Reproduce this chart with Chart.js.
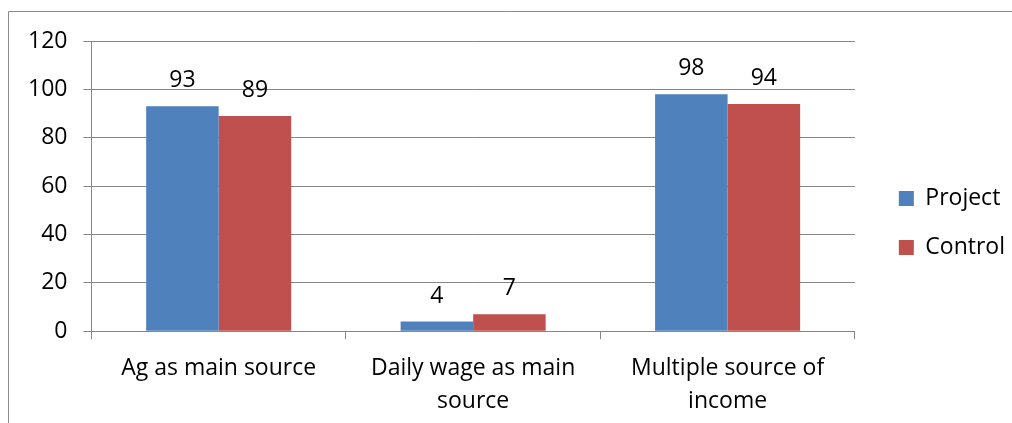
<!DOCTYPE html>
<html>
<head>
<meta charset="utf-8">
<script src="https://cdn.jsdelivr.net/npm/chart.js@4"></script>
<style>
  html, body { margin: 0; padding: 0; background: #fff; }
  #wrap { position: relative; width: 1012px; height: 423px; overflow: hidden; }
</style>
</head>
<body>
<div id="wrap"><canvas id="chart" width="1012" height="431"></canvas></div>
<script>
// chart data
var categories = ['Ag as main source', ['Daily wage as main', 'source'], ['Multiple source of', 'income']];
var projectValues = [93, 4, 98];
var controlValues = [89, 7, 94];
var yTicks = [0, 20, 40, 60, 80, 100, 120];

var FONT = '"Open Sans", sans-serif';

// outer frame (only left & top edges visible in the picture)
var framePlugin = {
  id: 'frame',
  beforeDraw: function(chart) {
    var ctx = chart.ctx;
    ctx.save();
    ctx.strokeStyle = '#8c8c8c';
    ctx.lineWidth = 1;
    ctx.beginPath();
    ctx.moveTo(8.5, 440);
    ctx.lineTo(8.5, 11.5);
    ctx.lineTo(1020, 11.5);
    ctx.stroke();
    ctx.restore();
    // nudge legend a bit away from the plot, like the original
    var lg = chart.legend;
    if (lg && !lg._nudged) {
      lg.left += 18; lg.right += 18;
      lg.top -= 13; lg.bottom -= 13;
      lg._nudged = true;
    }
  }
};

// value labels above the bars
var valueLabels = {
  id: 'valueLabels',
  afterDatasetsDraw: function(chart) {
    var ctx = chart.ctx;
    ctx.save();
    ctx.fillStyle = '#000';
    ctx.font = '23px ' + FONT;
    ctx.textAlign = 'center';
    ctx.textBaseline = 'alphabetic';
    chart.data.datasets.forEach(function(ds, i) {
      chart.getDatasetMeta(i).data.forEach(function(bar, j) {
        ctx.fillText(String(ds.data[j]), bar.x, bar.y - 19);
      });
    });
    ctx.restore();
  }
};

var ctx = document.getElementById('chart');
var myChart = new Chart(ctx, {
  type: 'bar',
  data: {
    labels: categories,
    datasets: [{
      label: 'Project',
      data: projectValues,
      backgroundColor: '#4F81BD',
      borderWidth: 0
    }, {
      label: 'Control',
      data: controlValues,
      backgroundColor: '#C0504D',
      borderWidth: 0
    }]
  },
  options: {
    responsive: false,
    animation: false,
    events: [],
    layout: { padding: { left: 12, top: 41, right: 15, bottom: 0 } },
    datasets: {
      bar: { barPercentage: 1, categoryPercentage: 0.57 }
    },
    plugins: {
      tooltip: { enabled: false },
      legend: {
        position: 'right',
        align: 'center',
        labels: {
          color: '#000',
          font: { family: FONT, size: 23 },
          boxWidth: 15,
          boxHeight: 15,
          padding: 26
        }
      }
    },
    scales: {
      x: {
        grid: {
          drawOnChartArea: false,
          drawTicks: true,
          tickLength: 8,
          color: '#868686'
        },
        border: { color: '#868686' },
        ticks: {
          color: '#000',
          font: { family: FONT, size: 23, lineHeight: 1.43 },
          padding: 13,
          maxRotation: 0,
          autoSkip: false
        }
      },
      y: {
        min: 0,
        max: 120,
        afterBuildTicks: function(axis) {
          axis.ticks = yTicks.map(function(v) { return { value: v }; });
        },
        grid: {
          color: '#868686',
          tickLength: 8
        },
        border: { color: '#868686' },
        ticks: {
          color: '#000',
          font: { family: FONT, size: 23 },
          padding: 16
        }
      }
    }
  },
  plugins: [framePlugin, valueLabels]
});
</script>
</body>
</html>
